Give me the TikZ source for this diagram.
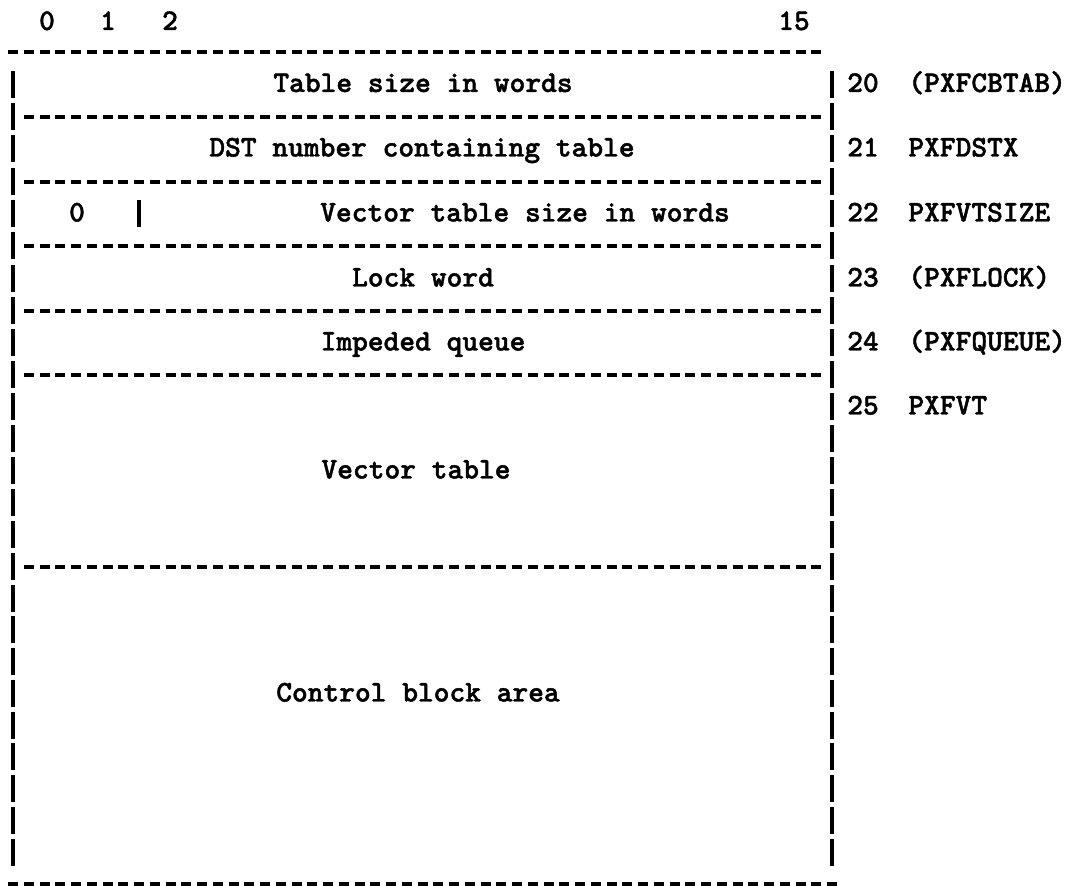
\documentclass[tikz,border=0pt]{standalone}
\usepackage{fontspec}
\newfontfamily\ttbold{lmmonolt10-bold}[Extension=.otf, FakeBold=1.5]
\begin{document}
\begin{tikzpicture}[x=0.5pt,y=-0.5pt,
  txt/.style={font=\ttbold\fontsize{15pt}{17pt}\selectfont, inner sep=0pt, anchor=base},
  lbl/.style={txt, anchor=base west},
  hdash/.style={line width=1.6pt, dash pattern=on 5pt off 2.875pt},
  vbar/.style={line width=1.6pt}]
\useasboundingbox (0,0) rectangle (1078,886);
% header
\node[txt] (h0) at (47,30) {0};
\node[txt] (h1) at (108,30) {1};
\node[txt] (h2) at (170,30) {2};
\node[txt] (h15) at (794,30) {15};
% horizontal dashed lines
\draw[hdash] (8,52) -- (821,52);
\foreach \y in {117,182,246,311,375,567} {
  \draw[hdash] (23.75,\y) -- (821,\y);
}
\draw[hdash] (8,884) -- (837,884);
% vertical bars (one per text line)
\foreach \y in {84.5,117,149,182,214,246,279,311,343,375,407,439,471,503,535,567,599,630,662,694,726,757,789,821,853} {
  \draw[vbar] (13,\y-13.5) -- (13,\y+13.5);
  \draw[vbar] (832,\y-13.5) -- (832,\y+13.5);
}
\draw[vbar] (139,200.5) -- (139,227.5);
% field texts
\node[txt] (r1) at (423,92) {Table size in words};
\node[txt] (r2) at (422,156.5) {DST number containing table};
\node[txt] (r3a) at (77,221.5) {0};
\node[txt] (r3b) at (525,221.5) {Vector table size in words};
\node[txt] (r4) at (423,286.5) {Lock word};
\node[txt] (r5) at (423,350.5) {Impeded queue};
\node[txt] (vt) at (416,478.5) {Vector table};
\node[txt] (cb) at (418,701.5) {Control block area};
% offsets and names
\node[txt] (n20) at (863,92) {20};
\node[txt] (n21) at (863,156.5) {21};
\node[txt] (n22) at (863,221.5) {22};
\node[txt] (n23) at (863,286.5) {23};
\node[txt] (n24) at (863,350.5) {24};
\node[txt] (n25) at (863,414.5) {25};
\node[lbl] (l20) at (908,92) {(PXFCBTAB)};
\node[lbl] (l21) at (908,156.5) {PXFDSTX};
\node[lbl] (l22) at (908,221.5) {PXFVTSIZE};
\node[lbl] (l23) at (908,286.5) {(PXFLOCK)};
\node[lbl] (l24) at (908,350.5) {(PXFQUEUE)};
\node[lbl] (l25) at (908,414.5) {PXFVT};
\end{tikzpicture}
\end{document}
